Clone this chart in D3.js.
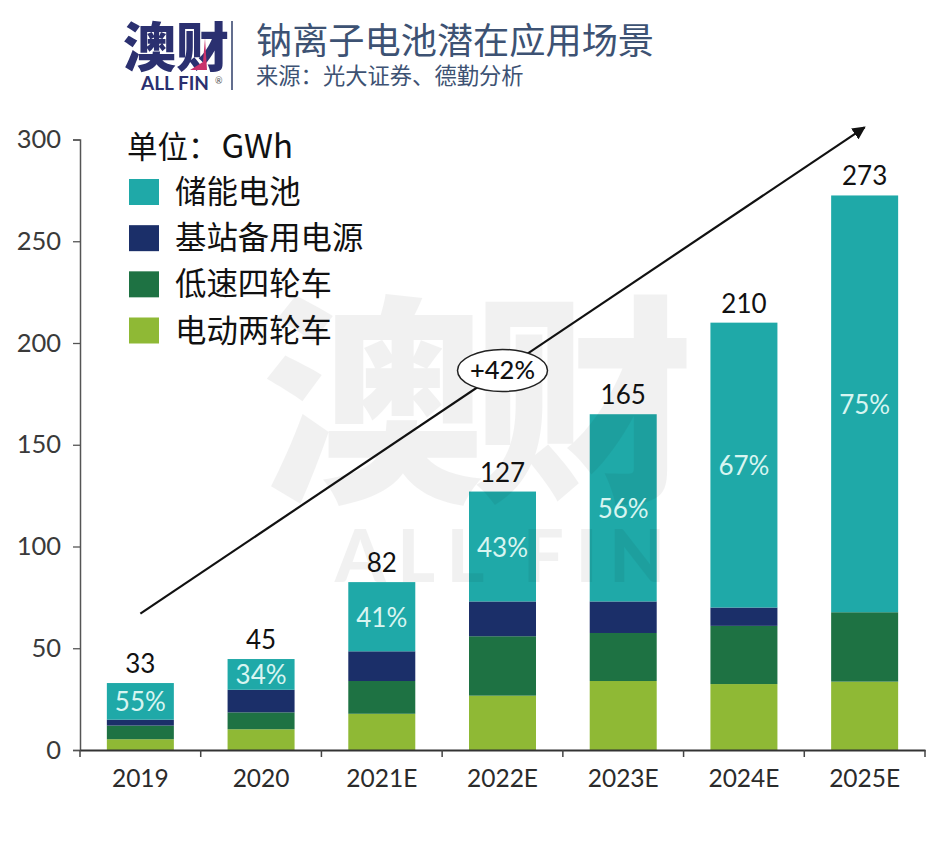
<!DOCTYPE html>
<html>
<head>
<meta charset="utf-8">
<script src="https://cdn.jsdelivr.net/npm/d3@7"></script>
<style>
  html, body { margin: 0; background: #fff; }
  text { font-family: "Noto Sans CJK SC", sans-serif; }
  .num { font-family: Lato, "Noto Sans", sans-serif; }
</style>
</head>
<body>
<svg id="chart" width="932" height="850"></svg>
<script>
var categories = ["2019", "2020", "2021E", "2022E", "2023E", "2024E", "2025E"],
    totals = [33, 45, 82, 127, 165, 210, 273],
    shareLabels = ["55%", "34%", "41%", "43%", "56%", "67%", "75%"],
    twoWheel = [5.3, 10.2, 17.8, 26.7, 33.9, 32.4, 33.6],
    lowSpeed = [6.7, 8.3, 16.1, 29.2, 23.6, 28.6, 34.1],
    baseStation = [2.9, 11.1, 14.6, 17.1, 15.5, 9, 0],
    storage = [18, 15.1, 34, 54, 92, 140, 204.8],
    yTicks = [0, 50, 100, 150, 200, 250, 300],
    seriesNames = ["储能电池", "基站备用电源", "低速四轮车", "电动两轮车"],
    seriesColors = ["#1fa9a8", "#1b2f69", "#1e7243", "#8fb935"],
    trendFrom = ["2019", 67],
    trendTo = ["2025E", 306],
    trendLabel = "+42%";

var stackRows = categories.map(function(c, i) {
  return { cat: c, a: twoWheel[i], b: lowSpeed[i], c: baseStation[i], d: storage[i] };
});

var svg = d3.select("#chart");

var x = d3.scaleBand().domain(categories).range([80, 925]).paddingInner(0.445).paddingOuter(0.2225);
var y = d3.scaleLinear().domain([0, 300]).range([750, 139.5]);

// stacked bars
var stacked = d3.stack().keys(["a", "b", "c", "d"])(stackRows);
var barColors = [seriesColors[3], seriesColors[2], seriesColors[1], seriesColors[0]];

svg.append("g").selectAll("g").data(stacked).enter().append("g")
    .attr("fill", function(d, i) { return barColors[i]; })
  .selectAll("rect").data(function(d) { return d; }).enter().append("rect")
    .attr("x", function(d) { return x(d.data.cat); })
    .attr("width", x.bandwidth())
    .attr("y", function(d) { return y(d[1]); })
    .attr("height", function(d) { return y(d[0]) - y(d[1]); });

// faint watermark, laid over the bars but under the labels
var mark = svg.append("g").attr("fill", "#000").attr("opacity", 0.05);
mark.append("text")
    .attr("x", 478).attr("y", 484).attr("text-anchor", "middle")
    .attr("font-size", 222).attr("font-weight", 900).attr("textLength", 432)
    .text("澳财");
mark.append("text")
    .attr("x", 500).attr("y", 582).attr("text-anchor", "middle")
    .attr("font-size", 72).attr("font-weight", 900)
    .style("font-family", "Lato").attr("textLength", 330)
    .text("ALL FIN");

// header
var head = svg.append("g");
head.append("text").attr("x", 123).attr("y", 67)
    .attr("font-size", 53).attr("font-weight", 900).attr("fill", "#2b3070")
    .text("澳财");
head.append("polygon").attr("points", "205,38 207,70 190,70 203,62").attr("fill", "#c8326b");
head.append("text").attr("x", 141).attr("y", 90)
    .attr("font-size", 19).attr("font-weight", 700).attr("fill", "#2b3070")
    .style("font-family", "Lato").text("ALL FIN");
head.append("text").attr("x", 215).attr("y", 84)
    .attr("font-size", 9).attr("fill", "#555").style("font-family", "Lato").text("®");
head.append("line").attr("x1", 232).attr("x2", 232).attr("y1", 21).attr("y2", 90)
    .attr("stroke", "#3b4a72").attr("stroke-width", 1.6);
head.append("text").attr("x", 256).attr("y", 54)
    .attr("font-size", 36.2).attr("fill", "#3d5273").text("钠离子电池潜在应用场景");
head.append("text").attr("x", 256).attr("y", 84)
    .attr("font-size", 22.3).attr("fill", "#3d5273").text("来源：光大证券、德勤分析");

// axes
var yAxis = svg.append("g").attr("transform", "translate(80,0)")
    .call(d3.axisLeft(y).tickValues(yTicks).tickSize(7).tickPadding(12));
var xAxis = svg.append("g").attr("transform", "translate(0,750)")
    .call(d3.axisBottom(x).tickSize(0).tickPadding(20));

yAxis.select(".domain").attr("stroke", "#555").attr("stroke-width", 1.5);
yAxis.selectAll("line").attr("stroke", "#555").attr("stroke-width", 1.3);
yAxis.selectAll("text").attr("class", "num").attr("font-size", 25.5).attr("fill", "#3a3a3a");
xAxis.select(".domain").attr("stroke", "#333").attr("stroke-width", 2);
xAxis.selectAll("text").attr("class", "num").attr("font-size", 24.5).attr("fill", "#2b2b2b");

// ticks between the categories
xAxis.selectAll(".sep").data(d3.range(categories.length + 1)).enter().append("line")
    .attr("class", "sep")
    .attr("x1", function(d) { return x.range()[0] + d * x.step(); })
    .attr("x2", function(d) { return x.range()[0] + d * x.step(); })
    .attr("y1", 0).attr("y2", 7)
    .attr("stroke", "#444").attr("stroke-width", 1.5);

// totals and share labels
svg.append("g").selectAll("text").data(totals).enter().append("text")
    .attr("class", "num")
    .attr("x", function(d, i) { return x(categories[i]) + x.bandwidth() / 2; })
    .attr("y", function(d, i) { return y(d3.sum(stacked, function(s) { return s[i][1] - s[i][0]; })) - 10; })
    .attr("text-anchor", "middle").attr("font-size", 26).attr("fill", "#111")
    .text(function(d) { return d; });

svg.append("g").selectAll("text").data(shareLabels).enter().append("text")
    .attr("class", "num")
    .attr("x", function(d, i) { return x(categories[i]) + x.bandwidth() / 2; })
    .attr("y", function(d, i) { return (y(stacked[3][i][0]) + y(stacked[3][i][1])) / 2 + 10; })
    .attr("text-anchor", "middle").attr("font-size", 26).attr("fill", "#d8f5f1")
    .text(function(d) { return d; });

// trend arrow
var xc = function(c) { return x(c) + x.bandwidth() / 2; };
svg.append("defs").append("marker")
    .attr("id", "head").attr("viewBox", "0 0 10 10").attr("refX", 9).attr("refY", 5)
    .attr("markerWidth", 6).attr("markerHeight", 6).attr("orient", "auto")
  .append("path").attr("d", "M0,0L10,5L0,10Z").attr("fill", "#111");

svg.append("line")
    .attr("x1", xc(trendFrom[0])).attr("y1", y(trendFrom[1]))
    .attr("x2", xc(trendTo[0])).attr("y2", y(trendTo[1]))
    .attr("stroke", "#111").attr("stroke-width", 2.2)
    .attr("marker-end", "url(#head)");

var midX = (xc(trendFrom[0]) + xc(trendTo[0])) / 2,
    midY = (y(trendFrom[1]) + y(trendTo[1])) / 2;
svg.append("ellipse").attr("cx", midX).attr("cy", midY).attr("rx", 45).attr("ry", 21)
    .attr("fill", "#fff").attr("stroke", "#222").attr("stroke-width", 1.5);
svg.append("text").attr("class", "num").attr("x", midX).attr("y", midY + 9)
    .attr("text-anchor", "middle").attr("font-size", 25.5).attr("font-weight", 500).attr("fill", "#111")
    .text(trendLabel);

// legend
var legend = svg.append("g");
var unit = legend.append("text").attr("x", 127).attr("y", 158)
    .attr("font-size", 30.5).attr("fill", "#111").text("单位：");
unit.append("tspan").attr("font-size", 33).attr("dx", 3).text("GWh");
var legendY = d3.scalePoint().domain(seriesNames).range([192, 330.5]);
var rows = legend.selectAll("g").data(seriesNames).enter().append("g")
    .attr("transform", function(d) { return "translate(0," + legendY(d) + ")"; });
rows.append("rect").attr("x", 129).attr("y", -13).attr("width", 30).attr("height", 26)
    .attr("fill", function(d, i) { return seriesColors[i]; });
rows.append("text").attr("x", 175).attr("y", 11)
    .attr("font-size", 31.4).attr("fill", "#111")
    .text(function(d) { return d; });
</script>
</body>
</html>
